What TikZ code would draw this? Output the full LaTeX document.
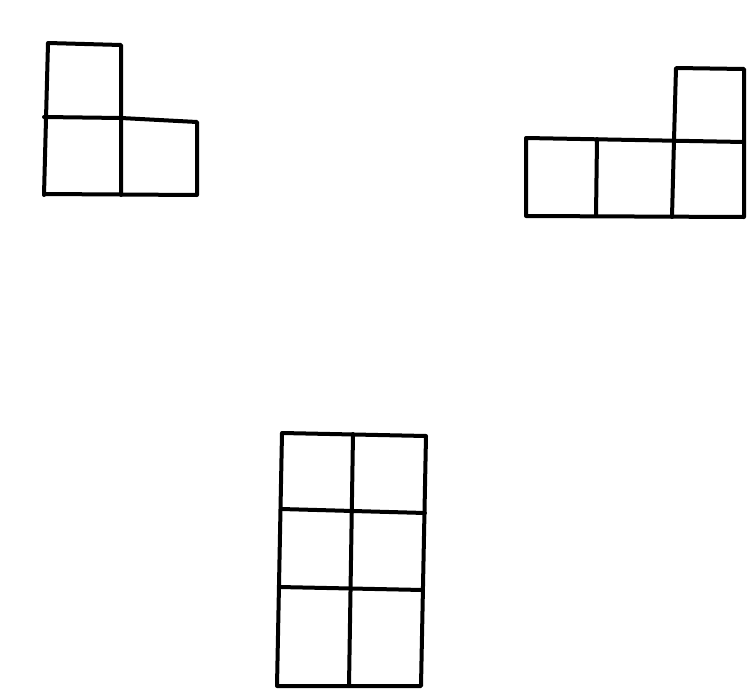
\documentclass[tikz,border=0pt]{standalone}
\begin{document}
\begin{tikzpicture}[x=1pt,y=-1pt,
  gridline/.style={draw=black,line width=4pt,line cap=round,line join=round}]
\useasboundingbox (0,0) rectangle (747,696);
% Shape 1: L-shape (top-left)
\draw[gridline] (44,195) -- (48,43) -- (121,45) -- (121,195);
\draw[gridline] (44,117) -- (121,118) -- (197,122) -- (197,195) -- (44,194);
% Shape 2: three in a row with one on top (top-right)
\draw[gridline] (526,138) -- (744,142) -- (744,217) -- (526,216) -- cycle;
\draw[gridline] (597,139) -- (596,216);
\draw[gridline] (674,140) -- (672,217);
\draw[gridline] (674,140) -- (676,68) -- (744,69) -- (744,142);
% Shape 3: 2x3 grid (bottom)
\draw[gridline] (282,433) -- (426,436) -- (421,686) -- (277,686) -- cycle;
\draw[gridline] (353,434) -- (349,686);
\draw[gridline] (281,509) -- (425,513);
\draw[gridline] (279,587) -- (423,590);
\end{tikzpicture}
\end{document}
